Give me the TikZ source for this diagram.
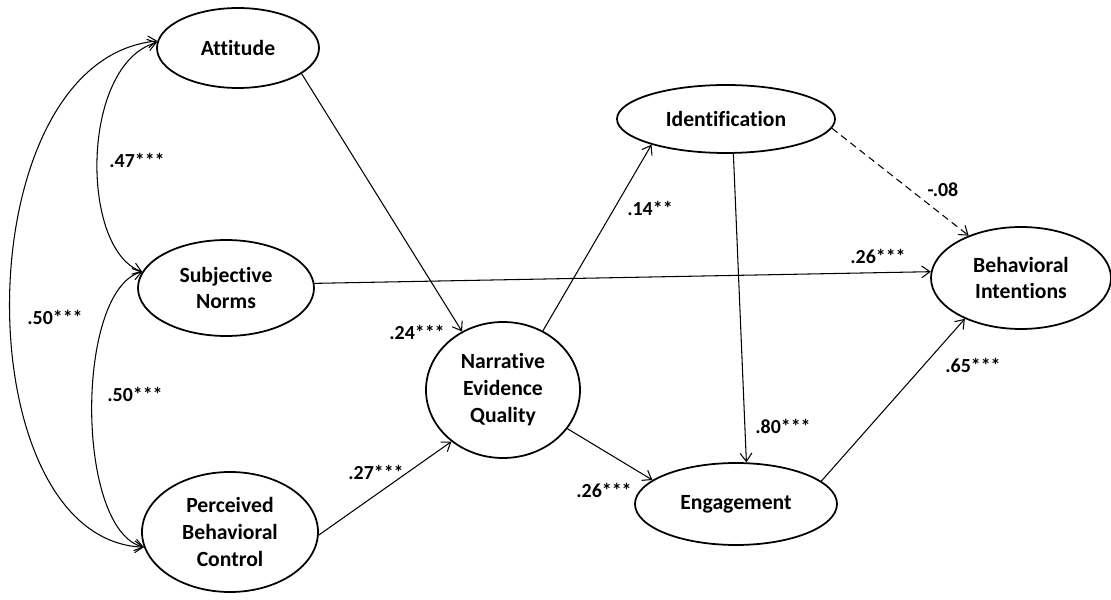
\documentclass[tikz,border=0pt]{standalone}
\usepackage{fontspec}
\setmainfont{Carlito}[Ligatures=NoCommon]
\usetikzlibrary{shapes.geometric,arrows.meta}
\begin{document}
\begin{tikzpicture}[x=0.03cm,y=-0.03cm,
  latent/.style={draw,ellipse,line width=1.5pt,inner sep=0pt,align=center,
    font=\fontsize{18.5}{23}\selectfont\bfseries},
  path/.style={line width=0.9pt,-{Straight Barb[length=7pt,width=10pt,line width=0.9pt]}},
  cov/.style={line width=0.9pt,{Straight Barb[length=7pt,width=10pt,line width=0.9pt]}-{Straight Barb[length=7pt,width=10pt,line width=0.9pt]}},
  lab/.style={font=\fontsize{17}{20}\selectfont\bfseries,inner sep=0pt}]
\useasboundingbox (0,0) rectangle (1111,600);
\node[latent,minimum width={162*0.03cm},minimum height={80*0.03cm}] (att) at (238,48) {Attitude};
\node[latent,minimum width={176*0.03cm},minimum height={96*0.03cm}] (sn) at (226,288) {Subjective\\Norms};
\node[latent,minimum width={176*0.03cm},minimum height={120*0.03cm}] (pbc) at (230,532) {Perceived\\Behavioral\\Control};
\node[latent,minimum width={154*0.03cm},minimum height={136*0.03cm}] (neq) at (503,390) {Narrative\\Evidence\\Quality};
\node[latent,minimum width={218*0.03cm},minimum height={68*0.03cm}] (idn) at (726,119) {Identification};
\node[latent,minimum width={202*0.03cm},minimum height={82*0.03cm}] (eng) at (736,504) {Engagement};
\node[latent,minimum width={180*0.03cm},minimum height={102*0.03cm}] (bi) at (1021,278) {Behavioral\\Intentions};

\draw[path] (att.-22) -- (neq.125.7);
\draw[path] (sn.3) -- (bi.176.7);
\draw[path] (pbc.-2) -- (neq.225.6);
\draw[path] (neq.56.3) -- (idn.199.6);
\draw[path] (neq.-31) -- (eng.164.8);
\draw[path] (idn.-78.4) -- (eng.76.3);
\draw[path,dashed,dash pattern=on 6pt off 4pt] (idn.-5.9) -- (bi.141.2);
\draw[path] (eng.15.6) -- (bi.216.5);

\draw[cov] (att.175.8) .. controls (-37,60) and (-37,540) .. (pbc.190.7);
\draw[cov] (att.176) .. controls (80,65) and (80,250) .. (sn.169.5);
\draw[cov] (sn.169.5) .. controls (75,290) and (75,530) .. (pbc.190);

\node[lab] (l1) at (137,160) {.47***};
\node[lab] (l2) at (55,317) {.50***};
\node[lab] (l3) at (135,394) {.50***};
\node[lab] (l4) at (417,332) {.24***};
\node[lab] (l5) at (376,472) {.27***};
\node[lab] (l6) at (650,208) {.14**};
\node[lab] (l7) at (943,190) {-.08};
\node[lab] (l8) at (878,256) {.26***};
\node[lab] (l9) at (973,365) {.65***};
\node[lab] (l10) at (783,426) {.80***};
\node[lab] (l11) at (604,490) {.26***};
\end{tikzpicture}
\end{document}
